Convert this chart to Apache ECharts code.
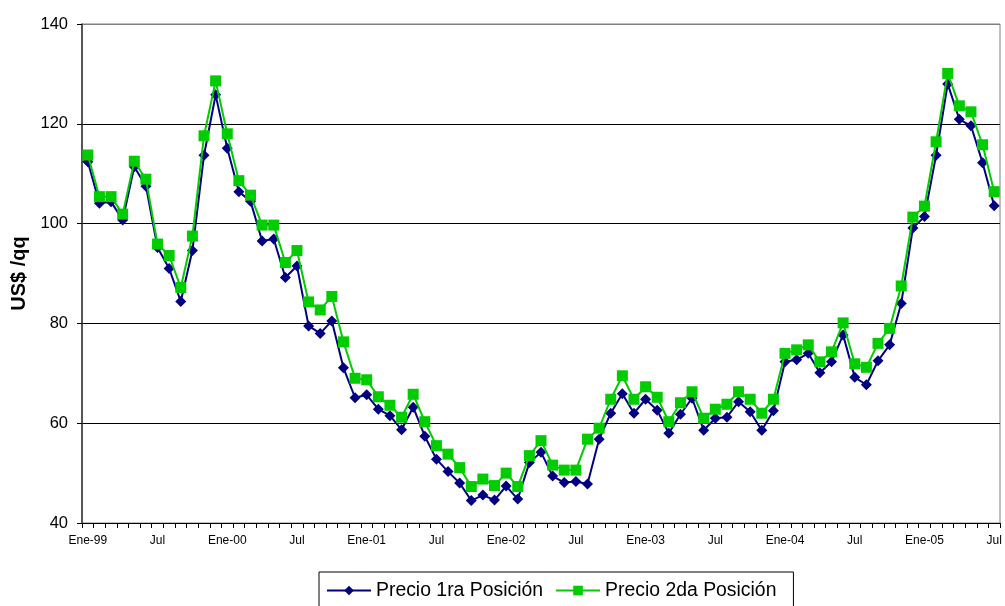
<!DOCTYPE html>
<html>
<head>
<meta charset="utf-8">
<script src="https://cdn.jsdelivr.net/npm/echarts@6/dist/echarts.min.js"></script>
<style>
html,body{margin:0;padding:0;background:#fff;}
#chart{width:1005px;height:606px;}
</style>
</head>
<body>
<div id="chart"></div>
<script>
// Tick labels / categories
var years = ['99','00','01','02','03','04','05'];
var monthNames = ['Ene','Feb','Mar','Abr','May','Jun','Jul','Ago','Sep','Oct','Nov','Dic'];
var categories = [];
for (var y = 0; y < years.length; y++) {
  for (var m = 0; m < 12; m++) {
    if (y === years.length - 1 && m > 6) break;
    categories.push(m === 0 ? monthNames[m] + '-' + years[y] : monthNames[m]);
  }
}
var yTicks = [40, 60, 80, 100, 120, 140];

// Series values (US$/qq)
var precio1ra = [
  112.4, 104.1, 104.4, 100.7, 111.4, 107.5, 95.2, 91.0, 84.4, 94.6, 113.7, 125.8,
  115.1, 106.4, 104.5, 96.5, 96.9, 89.2, 91.5, 79.5, 78.0, 80.5, 71.1, 65.1,
  65.7, 62.8, 61.5, 58.7, 63.2, 57.4, 52.8, 50.3, 48.0, 44.5, 45.6, 44.6,
  47.4, 44.8, 52.1, 54.2, 49.4, 48.1, 48.3, 47.8, 56.8, 62.0, 65.9, 62.0,
  64.8, 62.6, 58.0, 61.8, 65.0, 58.6, 61.0, 61.2, 64.3, 62.3, 58.6, 62.5,
  72.3, 72.7, 74.0, 70.1, 72.3, 77.7, 69.2, 67.7, 72.5, 75.7, 84.0, 99.1,
  101.4, 113.7, 128.0, 120.9, 119.6, 112.2, 103.6
];
var precio2da = [
  113.75, 105.4, 105.4, 101.9, 112.5, 108.9, 95.9, 93.6, 87.2, 97.5, 117.6, 128.6,
  118.0, 108.6, 105.7, 99.7, 99.7, 92.2, 94.6, 84.3, 82.7, 85.4, 76.3, 69.0,
  68.7, 65.3, 63.6, 61.2, 65.8, 60.3, 55.5, 53.8, 51.1, 47.3, 48.8, 47.5,
  50.0, 47.3, 53.5, 56.5, 51.6, 50.6, 50.6, 56.8, 59.0, 64.8, 69.5, 64.8,
  67.3, 65.2, 60.3, 64.1, 66.3, 61.0, 62.8, 63.8, 66.3, 64.8, 62.0, 64.8,
  74.0, 74.7, 75.7, 72.3, 74.3, 80.1, 71.9, 71.2, 76.0, 79.0, 87.5, 101.3,
  103.5, 116.4, 130.1, 123.6, 122.4, 115.8, 106.4
];
var seriesNames = ['Precio 1ra Posición', 'Precio 2da Posición'];

var FONT = "'Liberation Sans', Arial, sans-serif";
var chart = echarts.init(document.getElementById('chart'), null, {renderer: 'canvas'});
chart.setOption({
  animation: false,
  backgroundColor: '#ffffff',
  textStyle: {fontFamily: FONT},
  grid: {
    left: 82, right: 5, top: 24, bottom: 83,
    show: true, borderColor: '#808080', borderWidth: 1, backgroundColor: '#ffffff'
  },
  legend: {
    left: 319, top: 572,
    orient: 'horizontal',
    data: seriesNames,
    itemWidth: 44, itemHeight: 12, itemGap: 12,
    borderColor: '#000', borderWidth: 1,
    padding: [9, 17, 17, 7],
    textStyle: {fontFamily: FONT, fontSize: 19.4, color: '#000'}
  },
  xAxis: {
    type: 'category',
    data: categories,
    boundaryGap: true,
    axisLine: {lineStyle: {color: '#000', width: 1}},
    axisTick: {show: true, interval: 0, length: 5, alignWithLabel: false, lineStyle: {color: '#000'}},
    axisLabel: {interval: 5, margin: 12, fontSize: 12, color: '#000', fontFamily: FONT},
    splitLine: {show: false}
  },
  yAxis: {
    type: 'value',
    min: yTicks[0], max: yTicks[yTicks.length - 1], interval: 20,
    name: 'US$ /qq',
    nameLocation: 'middle',
    nameGap: 49,
    nameTextStyle: {fontSize: 20, fontWeight: 'bold', color: '#000', fontFamily: FONT},
    axisLine: {show: true, lineStyle: {color: '#333', width: 1.5}},
    axisTick: {show: true, length: 5, lineStyle: {color: '#000'}},
    axisLabel: {fontSize: 16.5, color: '#000', margin: 14, fontFamily: FONT},
    splitLine: {show: true, lineStyle: {color: ['#000', '#000', '#000', '#000', '#000', '#808080'], width: 1}}
  },
  series: [
    {
      name: seriesNames[0],
      type: 'line',
      data: precio1ra,
      symbol: 'diamond',
      symbolSize: 11,
      showAllSymbol: true,
      lineStyle: {color: '#000080', width: 2},
      itemStyle: {color: '#000080'},
      z: 2
    },
    {
      name: seriesNames[1],
      type: 'line',
      data: precio2da,
      symbol: 'rect',
      symbolSize: 11,
      showAllSymbol: true,
      lineStyle: {color: '#00CC00', width: 2},
      itemStyle: {color: '#00CC00'},
      z: 3
    }
  ]
});
</script>
</body>
</html>
